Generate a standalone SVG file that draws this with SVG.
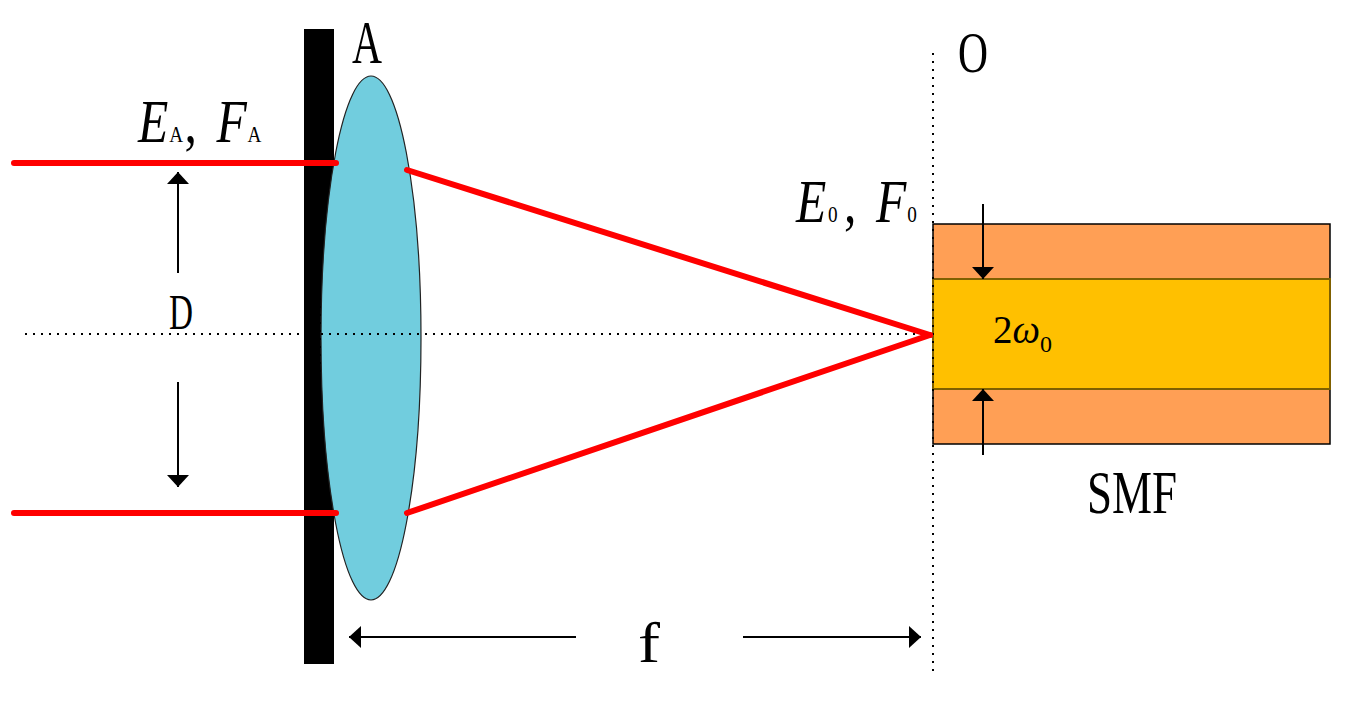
<svg xmlns="http://www.w3.org/2000/svg" width="1353" height="702" viewBox="0 0 1353 702">
  <style>
    .lbl { font-family: "Liberation Serif", "Times New Roman", serif; fill: #000; }
    .it { font-style: italic; }
    .ray { stroke: #ff0000; stroke-width: 6; stroke-linecap: round; fill: none; }
    .dot { stroke: #000; stroke-width: 2; stroke-dasharray: 2 6; fill: none; }
    .arr { stroke: #000; stroke-width: 2; fill: none; marker-end: url(#ah); }
  </style>
  <defs>
    <marker id="ah" viewBox="0 0 12 22" refX="12" refY="11" markerWidth="12" markerHeight="22" markerUnits="userSpaceOnUse" orient="auto">
      <path d="M0,0 L12,11 L0,22 z" fill="#000"/>
    </marker>
  </defs>
  <rect width="1353" height="702" fill="#fff"/>

  <g id="fiber">
    <rect x="933" y="224" width="397" height="220" fill="#ff9f55" stroke="#000" stroke-width="1.5"/>
    <rect x="933" y="279" width="397" height="110" fill="#ffc000" stroke="#7f6000" stroke-width="2"/>
  </g>

  <g id="aperture">
    <rect x="304" y="29" width="30" height="635" fill="#000"/>
  </g>

  <g id="lens">
    <ellipse cx="371" cy="338" rx="50" ry="262" fill="#71cdde" stroke="#222" stroke-width="1.2"/>
  </g>

  <g id="connectors">
    <line class="dot" x1="25" y1="334" x2="930" y2="334"/>
    <line class="dot" x1="320" y1="162" x2="320" y2="512"/>
    <line class="dot" x1="933" y1="53" x2="933" y2="674"/>
    <line class="ray" x1="14" y1="163" x2="336" y2="163"/>
    <line class="ray" x1="14" y1="513" x2="336" y2="513"/>
    <line class="ray" x1="407" y1="170" x2="930" y2="335"/>
    <line class="ray" x1="407" y1="513" x2="930" y2="335"/>
    <line class="arr" x1="178" y1="273" x2="178" y2="172"/>
    <line class="arr" x1="178" y1="382" x2="178" y2="487"/>
    <line class="arr" x1="983" y1="204" x2="983" y2="279"/>
    <line class="arr" x1="983" y1="455" x2="983" y2="389"/>
    <line class="arr" x1="576" y1="637" x2="349" y2="637"/>
    <line class="arr" x1="743" y1="637" x2="921" y2="637"/>
  </g>

  <g id="labels">
    <text class="lbl" x="352" y="63" font-size="62" textLength="30" lengthAdjust="spacingAndGlyphs">A</text>
    <text class="lbl" x="958" y="72" font-size="57" textLength="30" lengthAdjust="spacingAndGlyphs">O</text>
    <text class="lbl" x="169" y="329" font-size="50" textLength="24" lengthAdjust="spacingAndGlyphs">D</text>
    <text class="lbl" x="638" y="662" font-size="58" textLength="22" lengthAdjust="spacingAndGlyphs">f</text>
    <text class="lbl" x="1087" y="513" font-size="62" textLength="90" lengthAdjust="spacingAndGlyphs">SMF</text>

    <text class="lbl" transform="translate(138,142) scale(0.8,1)" font-size="62"><tspan class="it" x="0">E</tspan><tspan x="39" font-size="24">A</tspan><tspan x="58">,</tspan><tspan class="it" x="98">F</tspan><tspan x="137" font-size="24">A</tspan></text>

    <text class="lbl" transform="translate(796,222) scale(0.8,1)" font-size="62"><tspan class="it" x="0">E</tspan><tspan x="40" font-size="24">0</tspan><tspan x="60">,</tspan><tspan class="it" x="100">F</tspan><tspan x="139" font-size="24">0</tspan></text>

    <text class="lbl" x="993" y="343" font-size="39" fill="#1a1a1a">2<tspan class="it">ω</tspan><tspan font-size="24" dy="9">0</tspan></text>
  </g>
</svg>
